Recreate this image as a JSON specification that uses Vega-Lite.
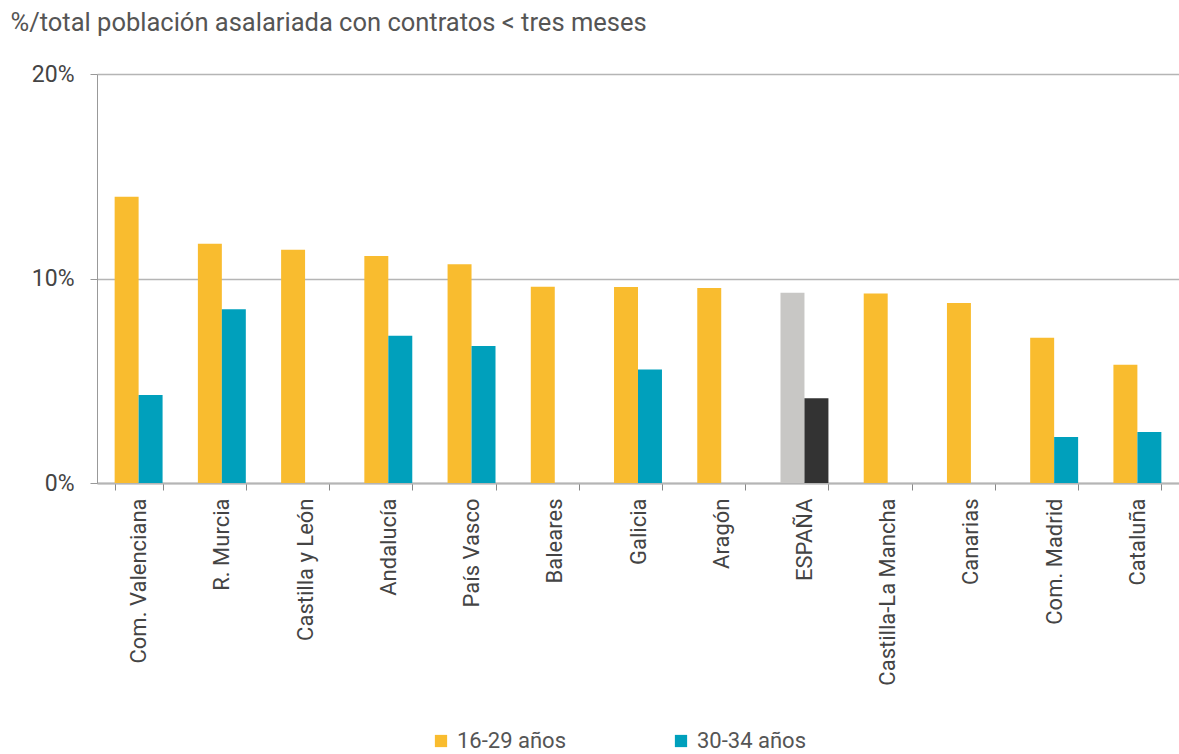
{
  "$schema": "https://vega.github.io/schema/vega-lite/v6.json",
  "width": 1082,
  "height": 409,
  "autosize": {"type": "none"},
  "padding": {"left": 97, "top": 74, "right": 0, "bottom": 271},
  "background": "white",
  "config": {
    "view": {"stroke": null},
    "font": "Roboto"
  },
  "data": {
    "values": [
      {"region": "Com. Valenciana", "grupo": "16-29 años", "valor": 14.0},
      {"region": "Com. Valenciana", "grupo": "30-34 años", "valor": 4.3},
      {"region": "R. Murcia", "grupo": "16-29 años", "valor": 11.7},
      {"region": "R. Murcia", "grupo": "30-34 años", "valor": 8.5},
      {"region": "Castilla y León", "grupo": "16-29 años", "valor": 11.4},
      {"region": "Andalucía", "grupo": "16-29 años", "valor": 11.1},
      {"region": "Andalucía", "grupo": "30-34 años", "valor": 7.2},
      {"region": "País Vasco", "grupo": "16-29 años", "valor": 10.7},
      {"region": "País Vasco", "grupo": "30-34 años", "valor": 6.7},
      {"region": "Baleares", "grupo": "16-29 años", "valor": 9.6},
      {"region": "Galicia", "grupo": "16-29 años", "valor": 9.58},
      {"region": "Galicia", "grupo": "30-34 años", "valor": 5.55},
      {"region": "Aragón", "grupo": "16-29 años", "valor": 9.54},
      {"region": "ESPAÑA", "grupo": "16-29 años", "valor": 9.3},
      {"region": "ESPAÑA", "grupo": "30-34 años", "valor": 4.15},
      {"region": "Castilla-La Mancha", "grupo": "16-29 años", "valor": 9.27},
      {"region": "Canarias", "grupo": "16-29 años", "valor": 8.8},
      {"region": "Com. Madrid", "grupo": "16-29 años", "valor": 7.1},
      {"region": "Com. Madrid", "grupo": "30-34 años", "valor": 2.25},
      {"region": "Cataluña", "grupo": "16-29 años", "valor": 5.78},
      {"region": "Cataluña", "grupo": "30-34 años", "valor": 2.5}
    ]
  },
  "mark": {"type": "bar"},
  "encoding": {
    "x": {
      "field": "region",
      "type": "nominal",
      "sort": null,
      "scale": {"paddingInner": 0.424, "paddingOuter": 0.212},
      "axis": {
        "title": null,
        "labelAngle": -90,
        "labelAlign": "right",
        "labelBaseline": "middle",
        "labelFontSize": 22,
        "labelColor": "#444444",
        "labelPadding": 8,
        "labelLimit": 400,
        "tickBand": "extent",
        "tickSize": 7,
        "tickColor": "#888888",
        "domainColor": "#b5b5b5",
        "domainWidth": 2
      }
    },
    "xOffset": {"field": "grupo", "type": "nominal", "sort": ["16-29 años", "30-34 años"]},
    "y": {
      "field": "valor",
      "type": "quantitative",
      "scale": {"domain": [0, 20]},
      "axis": {
        "values": [0, 10, 20],
        "labelExpr": "datum.value + '%'",
        "labelFontSize": 23,
        "labelColor": "#444444",
        "labelPadding": 16,
        "tickSize": 7,
        "tickColor": "#999999",
        "domainColor": "#999999",
        "gridColor": "#b5b5b5",
        "gridWidth": 1.3,
        "title": "%/total población asalariada con contratos < tres meses",
        "titleAngle": 0,
        "titleAlign": "left",
        "titleBaseline": "alphabetic",
        "titleX": -87,
        "titleY": -44,
        "titleFontSize": 25.5,
        "titleFontWeight": "normal",
        "titleColor": "#555555"
      }
    },
    "color": {
      "field": "grupo",
      "type": "nominal",
      "scale": {"domain": ["16-29 años", "30-34 años"], "range": ["#f9bc2f", "#00a0bc"]},
      "condition": [
        {"test": "datum.region === 'ESPAÑA' && datum.grupo === '16-29 años'", "value": "#c8c7c5"},
        {"test": "datum.region === 'ESPAÑA' && datum.grupo === '30-34 años'", "value": "#333333"}
      ],
      "legend": {
        "title": null,
        "orient": "none",
        "direction": "horizontal",
        "legendX": 333,
        "legendY": 656,
        "symbolType": "square",
        "symbolSize": 150,
        "symbolStrokeWidth": 0,
        "labelFontSize": 22,
        "labelColor": "#555555",
        "labelOffset": 5,
        "columnPadding": 103
      }
    }
  }
}
